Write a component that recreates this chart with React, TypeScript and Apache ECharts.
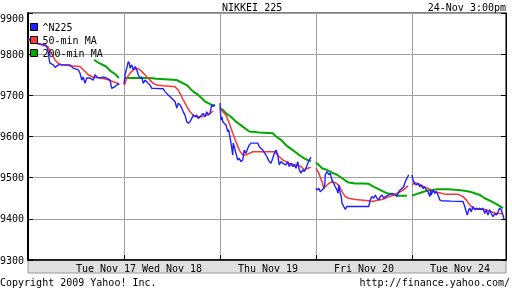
import React, { useEffect, useRef } from 'react';
import * as echarts from 'echarts';

// Trading days shown, and axis layout in minutes (each day slot = 384 min)
const DAYS = ['Tue Nov 17', 'Wed Nov 18', 'Thu Nov 19', 'Fri Nov 20', 'Tue Nov 24'];
const DAY_SPAN = 384;
const AXIS_MAX = 1912;
const DAY_LABEL_AT = [312, 576, 960, 1344, 1728];
const Y_MIN = 9300;
const Y_MAX = 9900;
const Y_STEP = 100;

// [minutes since session open, index value] for each day
const N225 = [
  [[0,9839],[8,9835],[28,9827],[48,9825],[72,9822],[80,9810],[85,9786],[88,9778],[101,9774],[108,9768],[121,9774],[141,9774],[168,9774],[181,9766],[201,9762],[208,9754],[215,9737],[221,9745],[228,9729],[235,9742],[248,9742],[261,9737],[268,9750],[275,9745],[288,9742],[301,9745],[315,9742],[328,9737],[335,9717],[348,9721],[355,9725],[361,9729],[364,9725]],
  [[0,9728],[2,9737],[4,9750],[11,9766],[17,9782],[21,9778],[24,9766],[31,9774],[37,9762],[44,9770],[51,9762],[57,9750],[64,9742],[71,9745],[77,9729],[84,9737],[91,9733],[97,9729],[104,9725],[111,9717],[117,9717],[157,9716],[164,9709],[177,9701],[191,9693],[204,9685],[211,9669],[217,9681],[224,9677],[231,9669],[237,9660],[244,9652],[251,9636],[257,9632],[264,9636],[271,9644],[277,9652],[284,9648],[291,9652],[297,9644],[304,9648],[311,9652],[317,9656],[324,9648],[331,9660],[337,9652],[344,9656],[351,9677],[357,9673],[364,9677]],
  [[0,9681],[2,9656],[4,9640],[8,9648],[11,9636],[17,9632],[24,9628],[31,9612],[35,9616],[37,9608],[44,9584],[48,9567],[51,9555],[53,9584],[57,9575],[64,9559],[71,9543],[77,9547],[84,9539],[91,9543],[97,9567],[104,9559],[111,9571],[117,9579],[124,9584],[151,9584],[157,9575],[171,9567],[184,9555],[197,9539],[204,9535],[211,9547],[217,9559],[224,9567],[231,9555],[237,9531],[244,9539],[251,9535],[264,9531],[271,9539],[277,9527],[284,9535],[291,9527],[297,9531],[304,9523],[311,9539],[317,9519],[324,9511],[331,9519],[337,9515],[344,9523],[351,9535],[357,9543],[364,9550]],
  [[0,9474],[4,9470],[11,9474],[17,9466],[24,9470],[31,9474],[35,9482],[37,9507],[44,9515],[51,9507],[57,9511],[64,9494],[71,9486],[77,9478],[84,9470],[88,9462],[91,9482],[97,9462],[101,9454],[104,9438],[111,9430],[117,9423],[124,9430],[211,9430],[217,9446],[224,9454],[231,9450],[237,9458],[244,9450],[251,9446],[257,9454],[264,9458],[271,9450],[277,9454],[291,9458],[304,9462],[317,9458],[324,9454],[331,9466],[337,9470],[344,9474],[351,9478],[357,9490],[364,9499],[371,9507]],
  [[0,9507],[4,9494],[11,9486],[17,9482],[24,9486],[31,9478],[37,9482],[44,9474],[51,9478],[57,9470],[64,9466],[71,9454],[75,9470],[77,9458],[84,9470],[91,9462],[97,9466],[104,9458],[111,9446],[117,9444],[157,9443],[204,9442],[211,9430],[217,9417],[221,9409],[227,9422],[231,9426],[237,9417],[244,9430],[251,9422],[257,9426],[264,9423],[271,9426],[277,9422],[284,9426],[291,9413],[297,9422],[304,9409],[311,9422],[317,9413],[324,9405],[331,9413],[337,9409],[344,9417],[351,9426],[357,9422],[364,9409],[368,9399]],
];

const MA50 = [
  [[0,9835],[28,9827],[80,9818],[108,9786],[121,9778],[135,9774],[168,9772],[208,9770],[228,9758],[241,9750],[261,9744],[288,9742],[315,9739],[341,9733],[361,9729]],
  [[0,9725],[4,9729],[11,9742],[24,9754],[37,9762],[51,9766],[64,9762],[77,9754],[91,9745],[104,9737],[117,9729],[131,9725],[157,9723],[204,9721],[217,9713],[224,9705],[237,9689],[251,9673],[264,9660],[277,9652],[291,9648],[311,9648],[331,9652],[344,9656],[357,9662]],
  [[0,9669],[11,9660],[24,9652],[37,9632],[51,9608],[64,9587],[77,9567],[91,9555],[104,9555],[117,9559],[131,9563],[171,9563],[217,9563],[224,9559],[237,9551],[251,9543],[264,9539],[277,9535],[304,9531],[324,9527],[337,9519],[351,9523],[364,9525]],
  [[0,9523],[11,9511],[24,9490],[31,9474],[37,9478],[51,9486],[64,9490],[77,9488],[91,9482],[104,9466],[117,9454],[131,9450],[157,9447],[211,9444],[224,9442],[237,9444],[251,9446],[264,9447],[277,9450],[291,9454],[304,9456],[317,9460],[331,9464],[344,9468],[357,9474],[368,9480]],
  [[0,9482],[11,9488],[24,9486],[37,9482],[51,9477],[64,9474],[77,9470],[91,9466],[104,9464],[117,9462],[131,9460],[184,9460],[204,9454],[217,9446],[231,9434],[244,9426],[257,9423],[277,9424],[297,9422],[317,9417],[337,9413],[357,9413],[364,9411]],
];

const MA200 = [
  [[265,9786],[285,9778],[312,9770],[332,9758],[352,9750],[363,9742]],
  [[0,9743],[24,9742],[64,9742],[104,9742],[131,9740],[211,9737],[224,9733],[237,9729],[251,9725],[264,9717],[277,9709],[297,9701],[311,9693],[324,9685],[337,9681],[351,9677],[364,9675]],
  [[0,9669],[11,9665],[24,9656],[44,9648],[64,9636],[91,9624],[117,9612],[157,9610],[211,9608],[224,9600],[244,9592],[264,9579],[291,9567],[317,9555],[337,9547],[357,9541],[364,9541]],
  [[0,9536],[11,9531],[24,9523],[44,9519],[64,9512],[84,9507],[104,9499],[117,9493],[131,9488],[157,9486],[184,9486],[211,9485],[224,9480],[244,9474],[264,9468],[284,9462],[304,9460],[331,9456],[364,9456]],
  [[0,9456],[17,9460],[37,9464],[57,9468],[77,9470],[104,9472],[144,9472],[184,9470],[211,9468],[231,9466],[251,9462],[271,9458],[291,9450],[311,9444],[331,9438],[351,9431],[364,9426]],
];

const SERIES_NAMES = ['^N225', '50-min MA', '200-min MA'];
const FONT = '"DejaVu Sans Mono", monospace';

function joinDays(days: number[][][]) {
  const out: any[] = [];
  days.forEach((day, i) => {
    day.forEach(([m, v]) => out.push([i * DAY_SPAN + m, v]));
    out.push([i * DAY_SPAN + 378, '-']);
  });
  return out;
}

const txt = (extra: any) => ({
  padding: 0,
  textStyle: { fontFamily: FONT, fontSize: 10, fontWeight: 'normal', color: '#000', lineHeight: 12 },
  ...extra,
});

export default function App() {
  const ref = useRef<HTMLDivElement>(null);
  useEffect(() => {
    if (!ref.current) return;
    const chart = echarts.init(ref.current, undefined, { renderer: 'svg' });
    chart.setOption({
      animation: false,
      textStyle: { fontFamily: FONT },
      title: [
        txt({ text: 'NIKKEI 225', left: 222, top: 1 }),
        txt({ text: '24-Nov 3:00pm', right: 6, top: 1 }),
        txt({ text: 'Copyright 2009 Yahoo! Inc.', left: 0, top: 276 }),
        txt({ text: 'http://finance.yahoo.com/', right: 2, top: 276 }),
      ],
      legend: {
        orient: 'vertical',
        left: 30,
        top: 21,
        padding: 0,
        itemWidth: 7,
        itemHeight: 7,
        itemGap: 1,
        icon: 'rect',
        selectedMode: false,
        data: SERIES_NAMES,
        itemStyle: { borderColor: '#000', borderWidth: 1 },
        textStyle: { fontFamily: FONT, fontSize: 10, color: '#000', lineHeight: 12 },
      },
      grid: {
        left: 28, right: 6, top: 13, bottom: 28,
        outerBoundsMode: 'none', containLabel: false,
        show: true, borderColor: '#000', borderWidth: 1, backgroundColor: 'transparent',
      },
      graphic: [
        {
          type: 'rect', z: -1, silent: true,
          shape: { x: 28, y: 260, width: 478, height: 13 },
          style: { fill: '#e0e0e0', stroke: '#999', lineWidth: 1 },
        },
      ],
      xAxis: {
        type: 'value', min: 0, max: AXIS_MAX, interval: DAY_SPAN,
        axisLine: { show: true, lineStyle: { color: '#000', width: 1.5 } },
        axisTick: { show: true, inside: true, length: 5, lineStyle: { color: '#000' } },
        axisLabel: {
          customValues: DAY_LABEL_AT,
          formatter: (v: number) => DAYS[DAY_LABEL_AT.indexOf(v)] ?? '',
          fontFamily: FONT, fontSize: 10, color: '#000', margin: 3,
        },
        splitLine: { show: true, lineStyle: { color: '#a0a0a0', width: 1 } },
      },
      yAxis: [
        {
          type: 'value', min: Y_MIN, max: Y_MAX, interval: Y_STEP, position: 'left',
          axisLine: { show: true, lineStyle: { color: '#000', width: 2 } },
          axisTick: { show: true, inside: true, length: 5, lineStyle: { color: '#000' } },
          axisLabel: {
            formatter: (v: number) => String(v),
            fontFamily: FONT, fontSize: 10, color: '#000', margin: 4, verticalAlignMaxLabel: 'top',
          },
          splitLine: { show: true, lineStyle: { color: '#a0a0a0', width: 1 } },
        },
        {
          type: 'value', min: Y_MIN, max: Y_MAX, interval: Y_STEP, position: 'right',
          axisLine: { show: true, lineStyle: { color: '#000', width: 1 } },
          axisTick: { show: true, inside: true, length: 5, lineStyle: { color: '#000' } },
          axisLabel: { show: false },
          splitLine: { show: false },
        },
      ],
      series: [
        {
          type: 'line', name: SERIES_NAMES[2], data: joinDays(MA200), color: '#00a800',
          lineStyle: { width: 2 }, symbol: 'none', showSymbol: false, connectNulls: false,
        },
        {
          type: 'line', name: SERIES_NAMES[1], data: joinDays(MA50), color: '#ff3535',
          lineStyle: { width: 1.5 }, symbol: 'none', showSymbol: false, connectNulls: false,
        },
        {
          type: 'line', name: SERIES_NAMES[0], data: joinDays(N225), color: '#2020ff',
          lineStyle: { width: 1.4 }, symbol: 'none', showSymbol: false, connectNulls: false,
        },
      ],
    });
    return () => chart.dispose();
  }, []);
  return <div ref={ref} style={{ position: 'fixed', left: 0, top: 0, width: 512, height: 288 }} />;
}
